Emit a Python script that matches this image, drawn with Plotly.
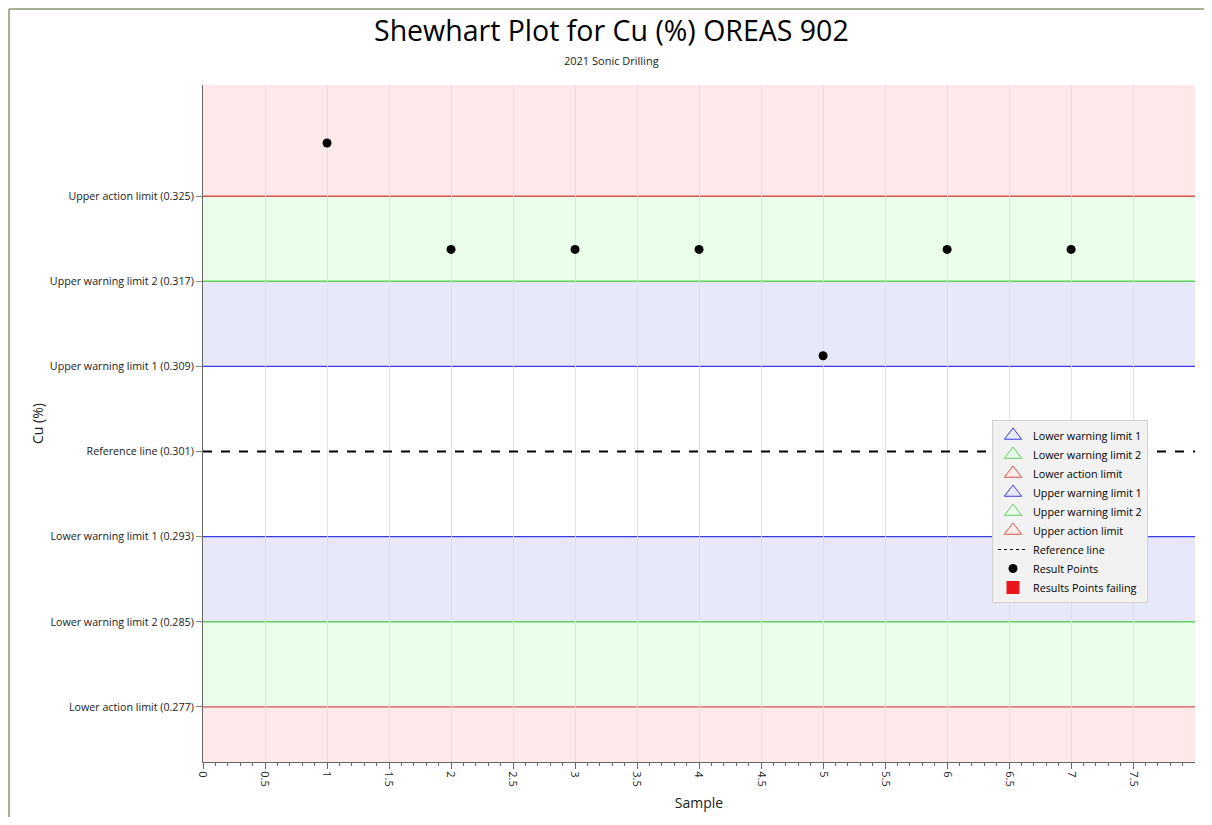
import plotly.graph_objects as go

# data
samples = [1, 2, 3, 4, 5, 6, 7]
cu_values = [0.330, 0.320, 0.320, 0.320, 0.310, 0.320, 0.320]

reference = 0.301
upper_warning_1 = 0.309
upper_warning_2 = 0.317
upper_action = 0.325
lower_warning_1 = 0.293
lower_warning_2 = 0.285
lower_action = 0.277

x_range = [0, 7.999]
y_range = [0.27182, 0.33545]

RED = "#d9534f"
GREEN = "#5fcf5f"
BLUE = "#3b3be6"
RED_FILL = "#fde9e9"
GREEN_FILL = "#eafcea"
BLUE_FILL = "#e8e8fb"

# page has an 8px body margin, so the figure is sized to fit inside it
W, H = 1196, 809
ML, MR, MT, MB = 195, 9, 77, 55
PW, PH = W - ML - MR, H - MT - MB

fig = go.Figure()

# coloured bands
bands = [
    (upper_action, y_range[1], RED_FILL),
    (upper_warning_2, upper_action, GREEN_FILL),
    (upper_warning_1, upper_warning_2, BLUE_FILL),
    (lower_warning_2, lower_warning_1, BLUE_FILL),
    (lower_action, lower_warning_2, GREEN_FILL),
    (y_range[0], lower_action, RED_FILL),
]
for y0, y1, col in bands:
    fig.add_shape(type="rect", xref="paper", yref="y", x0=0, x1=1, y0=y0, y1=y1,
                  fillcolor=col, line_width=0, layer="below")

# limit lines
limits = [
    (upper_action, RED), (upper_warning_2, GREEN), (upper_warning_1, BLUE),
    (lower_warning_1, BLUE), (lower_warning_2, GREEN), (lower_action, RED),
]
for yv, col in limits:
    fig.add_shape(type="line", xref="paper", yref="y", x0=0, x1=1, y0=yv, y1=yv,
                  line=dict(color=col, width=1.4), layer="below")
fig.add_shape(type="line", xref="paper", yref="y", x0=0, x1=1, y0=reference, y1=reference,
              line=dict(color="black", width=2, dash="dash"), layer="above")

# legend entries
legend_items = [
    ("Lower warning limit 1", BLUE, BLUE_FILL),
    ("Lower warning limit 2", GREEN, GREEN_FILL),
    ("Lower action limit", RED, RED_FILL),
    ("Upper warning limit 1", BLUE, BLUE_FILL),
    ("Upper warning limit 2", GREEN, GREEN_FILL),
    ("Upper action limit", RED, RED_FILL),
]
for name, lc, fc in legend_items:
    fig.add_trace(go.Scatter(x=[None], y=[None], mode="markers", name=name,
                             marker=dict(symbol="triangle-up", size=15, color=fc,
                                         line=dict(color=lc, width=1))))
fig.add_trace(go.Scatter(x=[None], y=[None], mode="lines", name="Reference line",
                         line=dict(color="black", width=1, dash="dot")))
fig.add_trace(go.Scatter(x=samples, y=cu_values, mode="markers", name="Result Points",
                         marker=dict(color="black", size=9)))
fig.add_trace(go.Scatter(x=[None], y=[None], mode="markers", name="Results Points failing",
                         marker=dict(symbol="square", color="#e8161b", size=13)))

# y ticks labelled with the limits
tick_vals = [upper_action, upper_warning_2, upper_warning_1, reference,
             lower_warning_1, lower_warning_2, lower_action]
tick_text = ["Upper action limit (0.325)", "Upper warning limit 2 (0.317)",
             "Upper warning limit 1 (0.309)", "Reference line (0.301)",
             "Lower warning limit 1 (0.293)", "Lower warning limit 2 (0.285)",
             "Lower action limit (0.277)"]

# outer border (left and top edges)
bx = (1 - ML) / PW
by = (PH + MT - 1) / PH
fig.add_shape(type="line", xref="paper", yref="paper", x0=bx, x1=bx, y0=-1, y1=by,
              line=dict(color="#8a9470", width=1.5))
fig.add_shape(type="line", xref="paper", yref="paper", x0=bx, x1=2, y0=by, y1=by,
              line=dict(color="#8a9470", width=1.5))

# title and subtitle
fig.add_annotation(text="Shewhart Plot for Cu (%) OREAS 902", xref="paper", yref="paper",
                   x=(603 - ML) / PW, y=(PH + MT - 22) / PH, showarrow=False,
                   xanchor="center", yanchor="middle", font=dict(size=28.5, color="black"))
fig.add_annotation(text="2021 Sonic Drilling", xref="paper", yref="paper",
                   x=(603 - ML) / PW, y=(PH + MT - 53) / PH, showarrow=False,
                   xanchor="center", yanchor="middle", font=dict(size=11, color="#222"))

fig.update_layout(
    width=W, height=H,
    font=dict(family="Open Sans, sans-serif", color="#222"),
    paper_bgcolor="white", plot_bgcolor="white",
    margin=dict(l=ML, r=MR, t=MT, b=MB),
    showlegend=True,
    legend=dict(x=(984 - ML) / PW, y=(PH + MT - 412) / PH, xanchor="left", yanchor="top",
                bgcolor="#f2f2f2", bordercolor="#d0d0d0", borderwidth=1,
                font=dict(size=10.8, color="black"), tracegroupgap=0, itemwidth=30),
    xaxis=dict(
        range=x_range, dtick=0.5, tick0=0, tickangle=90,
        showgrid=True, gridcolor="#e0e0e0", gridwidth=1,
        ticks="outside", ticklen=6, tickcolor="#666",
        minor=dict(dtick=0.1, ticks="outside", ticklen=3, tickcolor="#666", showgrid=False),
        showline=True, linecolor="#666", linewidth=1,
        zeroline=False, tickfont=dict(size=11),
        title=dict(text="Sample", font=dict(size=14), standoff=12),
    ),
    yaxis=dict(
        range=y_range, tickvals=tick_vals, ticktext=tick_text,
        showgrid=False, zeroline=False,
        ticks="outside", ticklen=6, tickcolor="#888",
        showline=True, linecolor="#666", linewidth=1,
        tickfont=dict(size=10.7),
        title=dict(text="Cu (%)", font=dict(size=14), standoff=2),
    ),
)

fig.write_html("out.html")
